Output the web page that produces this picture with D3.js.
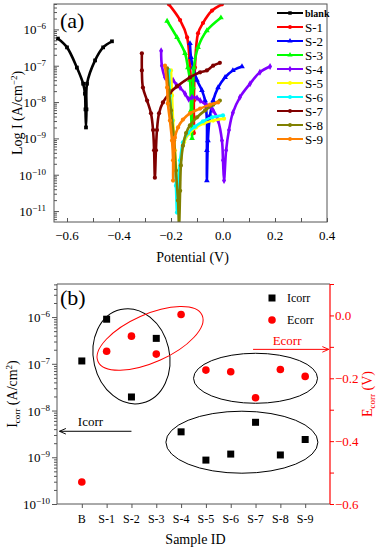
<!DOCTYPE html>
<html>
<head>
<meta charset="utf-8">
<script src="https://cdn.jsdelivr.net/npm/d3@7"></script>
<style>
body{margin:0;background:#fff}
text{font-family:"Liberation Serif","Times New Roman",serif;fill:#000}
</style>
</head>
<body>
<div id="chart"></div>
<script>
// panel (a): polarisation curves, [potential V, current A/cm2]
var seriesNames = ["blank","S-1","S-2","S-3","S-4","S-5","S-6","S-7","S-8","S-9"];
var seriesColors = ["#000000","#ff0000","#0000ff","#00ff00","#8000ff","#ffff00","#00ffff","#800000","#808000","#ff8000"];

var blank = [[-0.635,5.6e-7],[-0.600,3.2e-7],[-0.562,8.9e-8],[-0.538,3.2e-8],[-0.531,1.7e-8],[-0.529,6.3e-9],[-0.527,2.0e-9],
  [-0.525,6.3e-9],[-0.523,3.2e-8],[-0.492,1.4e-7],[-0.461,3.2e-7],[-0.427,4.7e-7]];
var s1 = [[-0.208,4.9e-6],[-0.165,1.8e-6],[-0.138,6.0e-7],[-0.127,8.9e-8],[-0.119,1.7e-8],[-0.115,4.3e-9],[-0.112,1.4e-9],
  [-0.112,1.1e-8],[-0.108,8.9e-8],[-0.096,7.8e-7],[-0.077,1.5e-6],[-0.042,3.3e-6],[-0.004,4.9e-6]];
var s2 = [[-0.127,4.1e-7],[-0.123,1.7e-7],[-0.115,8.9e-8],[-0.100,4.0e-8],[-0.081,2.1e-8],[-0.069,1.1e-8],[-0.062,3.1e-9],
  [-0.062,4.7e-10],[-0.062,6.9e-11],[-0.058,8.7e-10],[-0.050,4.3e-9],[-0.038,1.1e-8],[-0.019,2.5e-8],[0.008,4.8e-8],
  [0.038,7.4e-8],[0.073,9.5e-8]];
var s3 = [[-0.215,1.7e-6],[-0.177,6.0e-7],[-0.146,2.2e-7],[-0.135,8.9e-8],[-0.127,4.0e-8],[-0.123,5.9e-9],[-0.119,1.0e-9],
  [-0.119,5.9e-9],[-0.115,2.5e-8],[-0.112,8.9e-8],[-0.096,3.2e-7],[-0.062,9.3e-7],[-0.008,2.1e-6]];
var s4 = [[-0.238,2.6e-7],[-0.235,1.0e-7],[-0.223,4.8e-8],[-0.205,3.6e-8],[-0.192,4.0e-8],[-0.178,2.9e-8],[-0.165,2.5e-8],
  [-0.146,1.7e-8],[-0.132,1.2e-8],[-0.119,1.35e-8],[-0.100,1.3e-8],[-0.088,1.1e-8],[-0.062,8.1e-9],[-0.038,5.9e-9],
  [-0.019,3.1e-9],[-0.004,8.7e-10],[0.000,2.5e-10],[0.004,6.9e-11],[0.012,4.7e-10],[0.023,1.7e-9],[0.038,5.1e-9],
  [0.065,1.35e-8],[0.104,3.2e-8],[0.142,6.6e-8],[0.181,9.5e-8]];
var s5 = [[-0.200,7.4e-8],[-0.196,1.5e-8],[-0.192,3.1e-9],[-0.185,4.7e-10],[-0.177,6.9e-11],[-0.173,1.4e-11],[-0.169,6.9e-11],
  [-0.162,2.8e-10],[-0.150,7.8e-10],[-0.131,1.35e-9],[-0.104,2.0e-9],[-0.073,2.6e-9],[-0.038,3.1e-9],[0.004,3.5e-9]];
var s6 = [[-0.208,7.4e-8],[-0.204,1.5e-8],[-0.196,3.1e-9],[-0.188,4.7e-10],[-0.181,5.0e-11],[-0.177,9.1e-12],[-0.173,5.0e-11],
  [-0.165,2.5e-10],[-0.154,7.8e-10],[-0.135,1.4e-9],[-0.108,2.1e-9],[-0.077,2.95e-9],[-0.042,3.8e-9],[0.000,4.3e-9]];
var s7 = [[-0.312,2.2e-7],[-0.312,7.4e-8],[-0.308,2.5e-8],[-0.292,1.1e-8],[-0.277,4.9e-9],[-0.269,1.7e-9],[-0.265,4.7e-10],
  [-0.262,8.3e-11],[-0.258,4.7e-10],[-0.254,1.7e-9],[-0.246,4.9e-9],[-0.231,9.8e-9],[-0.204,1.8e-8],[-0.177,2.7e-8],
  [-0.127,4.8e-8],[-0.088,6.6e-8],[-0.062,7.4e-8],[-0.038,1.0e-7],[-0.012,1.2e-7]];
var s8 = [[-0.215,8.5e-8],[-0.208,2.1e-8],[-0.200,5.9e-9],[-0.188,8.7e-10],[-0.181,1.3e-10],[-0.173,1.95e-11],[-0.169,4.0e-12],
  [-0.165,3.6e-11],[-0.162,1.8e-10],[-0.154,6.3e-10],[-0.142,1.4e-9],[-0.127,2.3e-9],[-0.100,3.8e-9],[-0.069,5.9e-9],
  [-0.038,8.5e-9],[-0.012,1.1e-8]];
var s9 = [[-0.223,1.0e-7],[-0.215,2.5e-8],[-0.212,9.1e-9],[-0.204,3.1e-9],[-0.196,8.7e-10],[-0.192,2.5e-10],[-0.192,6.9e-11],
  [-0.188,4.7e-10],[-0.185,1.05e-9],[-0.173,2.0e-9],[-0.154,3.3e-9],[-0.127,4.9e-9],[-0.088,6.6e-9],[-0.050,8.5e-9],
  [-0.019,9.8e-9]];
var tafelCurves = [blank,s1,s2,s3,s4,s5,s6,s7,s8,s9];

var potentialTicks = [-0.6,-0.4,-0.2,0.0,0.2,0.4];
var currentExps = [-6,-7,-8,-9,-10,-11];

// panel (b): fitted values
var sampleIds = ["B","S-1","S-2","S-3","S-4","S-5","S-6","S-7","S-8","S-9"];
var icorr = [1.15e-7,9.0e-7,1.95e-8,3.5e-7,3.5e-9,8.7e-10,1.17e-9,5.6e-9,1.12e-9,2.4e-9];
var ecorr = [-0.53,-0.114,-0.066,-0.123,0.003,-0.174,-0.179,-0.262,-0.172,-0.194];
var icorrExps = [-6,-7,-8,-9,-10];
var ecorrTicks = [0.0,-0.2,-0.4,-0.6];

var W = 380, H = 550;
var svg = d3.select("#chart").append("svg")
  .attr("width", W)
  .attr("height", H)
  .attr("viewBox", "0 0 " + W + " " + H);

function powLabel(sel, e){
  sel.text("10");
  sel.append("tspan").attr("dy", -5).attr("font-size", 9).text("\u2212" + Math.abs(e));
}

function minorLog(lo, hi){
  var out = [];
  for(var e = lo; e < hi; e++){
    for(var k = 2; k < 10; k++) out.push(k * Math.pow(10, e));
  }
  return out;
}

// ---------- panel (a) ----------
var ax = {l:54, r:327, t:4, b:222};
var xa = d3.scaleLinear().domain([-0.65, 0.4]).range([ax.l, ax.r]);
var ya = d3.scaleLog().domain([5e-12, 5e-6]).range([ax.b, ax.t]);

svg.append("clipPath").attr("id", "clipA")
  .append("rect").attr("x", ax.l).attr("y", ax.t).attr("width", ax.r - ax.l).attr("height", ax.b - ax.t);

var symbolTypes = [d3.symbolSquare, d3.symbolCircle, d3.symbolTriangle, d3.symbolTriangle, d3.symbolDiamond,
  d3.symbolCircle, d3.symbolCircle, d3.symbolCircle, d3.symbolCircle, d3.symbolCircle];

var lineA = d3.line()
  .x(function(d){ return xa(d[0]); })
  .y(function(d){ return ya(d[1]); })
  .curve(d3.curveCatmullRom.alpha(0.5));
var curvesG = svg.append("g").attr("clip-path", "url(#clipA)");
tafelCurves.forEach(function(c, i){
  curvesG.append("path")
    .attr("d", lineA(c))
    .attr("fill", "none")
    .attr("stroke", seriesColors[i])
    .attr("stroke-width", 2.6)
    .attr("stroke-linejoin", "round");
  curvesG.selectAll(".m" + i).data(c).enter().append("path")
    .attr("transform", function(d){ return "translate(" + xa(d[0]) + "," + ya(d[1]) + ")"; })
    .attr("d", d3.symbol().type(symbolTypes[i]).size(14))
    .attr("fill", seriesColors[i]);
});

// frame
svg.append("rect").attr("x", ax.l).attr("y", ax.t).attr("width", ax.r - ax.l).attr("height", ax.b - ax.t)
  .attr("fill", "none").attr("stroke", "#555").attr("stroke-width", 1);

// x axis
var xAxisA = svg.append("g").attr("transform", "translate(0," + ax.b + ")")
  .call(d3.axisBottom(xa).tickValues(d3.range(-0.6, 0.45, 0.1)).tickSize(-4).tickFormat(""));
xAxisA.select(".domain").remove();
xAxisA.selectAll("line").attr("stroke", "#555");
svg.selectAll(".xlabA").data(potentialTicks).enter().append("text")
  .attr("x", function(d){ return xa(d); })
  .attr("y", ax.b + 18)
  .attr("text-anchor", "middle")
  .attr("font-size", 13)
  .text(function(d){ return d3.format(".1f")(d).replace("-", "\u2212"); });

// y axis
var yMinorA = svg.append("g").attr("transform", "translate(" + ax.l + ",0)")
  .call(d3.axisLeft(ya).tickValues(minorLog(-12, -5).filter(function(v){ return v > 5e-12 && v < 5e-6; })).tickSize(-3).tickFormat(""));
yMinorA.select(".domain").remove();
yMinorA.selectAll("line").attr("stroke", "#555");
var yMajorA = svg.append("g").attr("transform", "translate(" + ax.l + ",0)")
  .call(d3.axisLeft(ya).tickValues(currentExps.map(function(e){ return Math.pow(10, e); })).tickSize(-5).tickFormat(""));
yMajorA.select(".domain").remove();
yMajorA.selectAll("line").attr("stroke", "#555");
svg.selectAll(".ylabA").data(currentExps).enter().append("text")
  .attr("x", ax.l - 8)
  .attr("y", function(d){ return ya(Math.pow(10, d)) + 5; })
  .attr("text-anchor", "end")
  .attr("font-size", 13)
  .each(function(d){ powLabel(d3.select(this), d); });

// titles
svg.append("text").attr("x", (ax.l + ax.r) / 2 + 2).attr("y", 262)
  .attr("text-anchor", "middle").attr("font-size", 14).text("Potential (V)");
var ytA = svg.append("text").attr("transform", "translate(22," + (ax.t + ax.b) / 2 + ") rotate(-90)")
  .attr("text-anchor", "middle").attr("font-size", 14);
ytA.append("tspan").text("Log I (A/cm");
ytA.append("tspan").attr("dy", -5).attr("font-size", 9).text("\u22122");
ytA.append("tspan").attr("dy", 5).text(")");
svg.append("text").attr("x", 60).attr("y", 28).attr("font-size", 22).text("(a)");

// legend
var legA = svg.append("g");
seriesNames.forEach(function(name, i){
  var ly = 13 + i * 14;
  legA.append("line").attr("x1", 277).attr("x2", 303).attr("y1", ly).attr("y2", ly)
    .attr("stroke", seriesColors[i]).attr("stroke-width", 2);
  legA.append("path").attr("transform", "translate(290," + ly + ")")
    .attr("d", d3.symbol().type(symbolTypes[i]).size(12)).attr("fill", seriesColors[i]);
  legA.append("text").attr("x", 305).attr("y", ly + (i === 0 ? 3.5 : 4.5))
    .attr("font-size", i === 0 ? 10 : 13)
    .attr("font-weight", i === 0 ? "bold" : "normal")
    .text(name);
});

// ---------- panel (b) ----------
var bx = {l:57, r:330, t:284, b:504};
var xb = d3.scaleLinear().domain([0, 11]).range([bx.l, bx.r]);
var yb = d3.scaleLog().domain([1e-10, 5.1e-6]).range([bx.b, bx.t]);
var ye = d3.scaleLinear().domain([-0.6, 0.1]).range([bx.b, bx.t]);
var red = "#ff0000";

// frame: black left/top/bottom, red right
svg.append("path").attr("d", "M" + bx.r + "," + bx.t + "H" + bx.l + "V" + bx.b + "H" + bx.r)
  .attr("fill", "none").attr("stroke", "#555");
svg.append("line").attr("x1", bx.r).attr("x2", bx.r).attr("y1", bx.t).attr("y2", bx.b)
  .attr("stroke", red).attr("stroke-width", 1.2);

// x axis
var xAxisB = svg.append("g").attr("transform", "translate(0," + bx.b + ")")
  .call(d3.axisBottom(xb).tickValues(d3.range(1, 11)).tickSize(4).tickFormat(""));
xAxisB.select(".domain").remove();
xAxisB.selectAll("line").attr("stroke", "#555");
svg.selectAll(".xlabB").data(sampleIds).enter().append("text")
  .attr("x", function(d, i){ return xb(i + 1); })
  .attr("y", bx.b + 19)
  .attr("text-anchor", "middle")
  .attr("font-size", 12)
  .text(function(d){ return d; });

// left log axis
var yMinorB = svg.append("g").attr("transform", "translate(" + bx.l + ",0)")
  .call(d3.axisLeft(yb).tickValues(minorLog(-10, -5).filter(function(v){ return v < 5.1e-6; })).tickSize(3).tickFormat(""));
yMinorB.select(".domain").remove();
yMinorB.selectAll("line").attr("stroke", "#555");
var yMajorB = svg.append("g").attr("transform", "translate(" + bx.l + ",0)")
  .call(d3.axisLeft(yb).tickValues(icorrExps.map(function(e){ return Math.pow(10, e); })).tickSize(5).tickFormat(""));
yMajorB.select(".domain").remove();
yMajorB.selectAll("line").attr("stroke", "#555");
svg.selectAll(".ylabB").data(icorrExps).enter().append("text")
  .attr("x", bx.l - 7)
  .attr("y", function(d){ return yb(Math.pow(10, d)) + 5; })
  .attr("text-anchor", "end")
  .attr("font-size", 13)
  .each(function(d){ powLabel(d3.select(this), d); });

// right linear axis
var yAxisE = svg.append("g").attr("transform", "translate(" + bx.r + ",0)")
  .call(d3.axisRight(ye).tickValues(d3.range(-0.6, 0.15, 0.1)).tickSize(4).tickFormat(""));
yAxisE.select(".domain").remove();
yAxisE.selectAll("line").attr("stroke", red);
svg.selectAll(".elab").data(ecorrTicks).enter().append("text")
  .attr("x", bx.r + 5)
  .attr("y", function(d){ return ye(d) + 4.5; })
  .attr("font-size", 13)
  .style("fill", red)
  .text(function(d){ return d3.format(".1f")(d).replace("-", "\u2212"); });

// titles
svg.append("text").attr("x", (bx.l + bx.r) / 2 + 2).attr("y", 544)
  .attr("text-anchor", "middle").attr("font-size", 14).text("Sample ID");
var ytB = svg.append("text").attr("transform", "translate(17," + (bx.t + bx.b) / 2 + ") rotate(-90)")
  .attr("text-anchor", "middle").attr("font-size", 14);
ytB.append("tspan").text("I");
ytB.append("tspan").attr("dy", 3).attr("font-size", 9).text("corr");
ytB.append("tspan").attr("dy", -3).text(" (A/cm");
ytB.append("tspan").attr("dy", -5).attr("font-size", 9).text("2");
ytB.append("tspan").attr("dy", 5).text(")");
var ytE = svg.append("text").attr("transform", "translate(372," + (bx.t + bx.b) / 2 + ") rotate(-90)")
  .attr("text-anchor", "middle").attr("font-size", 14).style("fill", red);
ytE.append("tspan").text("E");
ytE.append("tspan").attr("dy", 3).attr("font-size", 9).text("corr");
ytE.append("tspan").attr("dy", -3).text(" (V)");
svg.append("text").attr("x", 60).attr("y", 305).attr("font-size", 22).text("(b)");

// grouping ellipses: centre in data units, radii in px
var ellipsesI = [{cx:3, cy:1.45e-7, rx:38, ry:48, rot:-13}, {cx:7.45, cy:2.1e-9, rx:76, ry:31, rot:0}];
var ellipsesE = [{cx:3.75, cy:-0.073, rx:57, ry:24, rot:-24, color:red}, {cx:8, cy:-0.20, rx:62, ry:25, rot:0}];
ellipsesI.forEach(function(e){
  svg.append("ellipse")
    .attr("transform", "translate(" + xb(e.cx) + "," + yb(e.cy) + ") rotate(" + e.rot + ")")
    .attr("rx", e.rx).attr("ry", e.ry)
    .attr("fill", "none").attr("stroke", "#000").attr("stroke-width", 1);
});
ellipsesE.forEach(function(e){
  svg.append("ellipse")
    .attr("transform", "translate(" + xb(e.cx) + "," + ye(e.cy) + ") rotate(" + e.rot + ")")
    .attr("rx", e.rx).attr("ry", e.ry)
    .attr("fill", "none").attr("stroke", e.color || "#000").attr("stroke-width", 1);
});

// arrows
var defs = svg.append("defs");
[["arrBlack", "#000"], ["arrRed", red]].forEach(function(a){
  defs.append("marker").attr("id", a[0]).attr("viewBox", "0 0 10 10").attr("refX", 9).attr("refY", 5)
    .attr("markerWidth", 8).attr("markerHeight", 8).attr("orient", "auto-start-reverse")
    .append("path").attr("d", "M1,1.5L9,5L1,8.5").attr("fill", "none").attr("stroke", a[1]).attr("stroke-width", 1.2);
});
svg.append("line").attr("x1", xb(3)).attr("x2", xb(0.1)).attr("y1", yb(3.6e-9)).attr("y2", yb(3.6e-9))
  .attr("stroke", "#000").attr("stroke-width", 1).attr("marker-end", "url(#arrBlack)");
svg.append("text").attr("x", xb(1.35)).attr("y", yb(3.6e-9) - 5).attr("text-anchor", "middle")
  .attr("font-size", 13).text("Icorr");
svg.append("line").attr("x1", xb(7.9)).attr("x2", xb(10.95)).attr("y1", ye(-0.108)).attr("y2", ye(-0.108))
  .attr("stroke", red).attr("stroke-width", 1).attr("marker-end", "url(#arrRed)");
svg.append("text").attr("x", xb(9.27)).attr("y", ye(-0.108) - 4).attr("text-anchor", "middle")
  .attr("font-size", 13).style("fill", red).text("Ecorr");

// points
svg.selectAll(".iPt").data(icorr).enter().append("rect")
  .attr("x", function(d, i){ return xb(i + 1) - 3.5; })
  .attr("y", function(d){ return yb(d) - 3.5; })
  .attr("width", 7).attr("height", 7)
  .attr("fill", "#000");
svg.selectAll(".ePt").data(ecorr).enter().append("circle")
  .attr("cx", function(d, i){ return xb(i + 1); })
  .attr("cy", function(d){ return ye(d); })
  .attr("r", 3.8)
  .attr("fill", red);

// legend (b)
svg.append("rect").attr("x", 268.5).attr("y", 294.5).attr("width", 7).attr("height", 7).attr("fill", "#000");
svg.append("text").attr("x", 287).attr("y", 302).attr("font-size", 12).text("Icorr");
svg.append("circle").attr("cx", 272).attr("cy", 320).attr("r", 3.8).attr("fill", red);
svg.append("text").attr("x", 287).attr("y", 324).attr("font-size", 12).text("Ecorr");
</script>
</body>
</html>
